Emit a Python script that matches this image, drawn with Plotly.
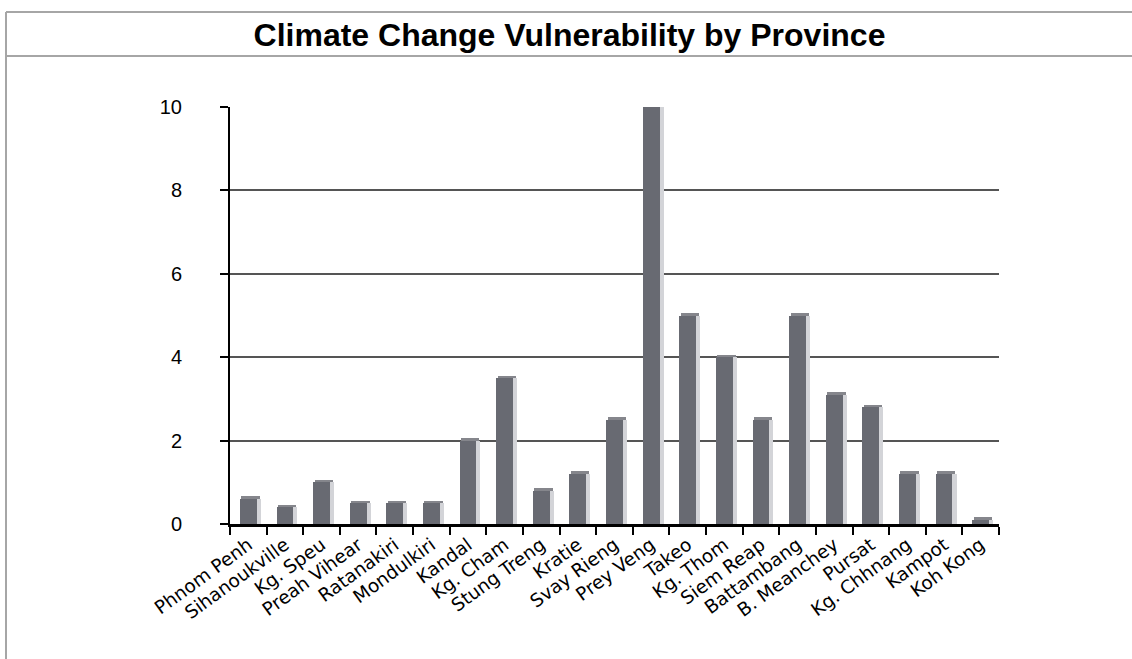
import plotly.graph_objects as go

provinces = ["Phnom Penh", "Sihanoukville", "Kg. Speu", "Preah Vihear", "Ratanakiri",
             "Mondulkiri", "Kandal", "Kg. Cham", "Stung Treng", "Kratie", "Svay Rieng",
             "Prey Veng", "Takeo", "Kg. Thom", "Siem Reap", "Battambang", "B. Meanchey",
             "Pursat", "Kg. Chhnang", "Kampot", "Koh Kong"]
vulnerability = [0.6, 0.4, 1.0, 0.5, 0.5, 0.5, 2.0, 3.5, 0.8, 1.2, 2.5,
                 10.0, 5.0, 4.0, 2.5, 5.0, 3.1, 2.8, 1.2, 1.2, 0.1]
y_ticks = [0, 2, 4, 6, 8, 10]

W, H = 1132, 659
L, R, T, B = 230, 133, 107, 135
pw, ph = W - L - R, H - T - B

def px(x):
    return (x - L) / pw

def py(y):
    return (H - B - y) / ph

fig = go.Figure()
# side face (3D depth)
fig.add_trace(go.Bar(x=provinces, y=vulnerability, width=0.11, offset=0.23,
                     marker=dict(color="#d3d4d8", line=dict(width=0)),
                     hoverinfo="skip", showlegend=False))
# front face
fig.add_trace(go.Bar(x=provinces, y=vulnerability, width=0.46, offset=-0.23,
                     marker=dict(color="#686a72", line=dict(width=0)),
                     showlegend=False))
# top face
fig.add_trace(go.Bar(x=provinces, y=[0.06] * len(vulnerability), base=vulnerability,
                     width=0.5, offset=-0.19,
                     marker=dict(color="#85868c", line=dict(width=0)),
                     hoverinfo="skip", showlegend=False))

fig.update_layout(
    width=W, height=H,
    margin=dict(l=L, r=R, t=T, b=B, pad=0),
    paper_bgcolor="white", plot_bgcolor="white",
    barmode="overlay", bargap=0,
    showlegend=False,
    title=dict(text="<b>Climate Change Vulnerability by Province</b>",
               x=(257 + 882) / 2 / W, xanchor="center",
               y=1 - 35 / H, yanchor="middle",
               font=dict(family="Liberation Sans", size=32, color="black")),
    xaxis=dict(type="category", tickangle=-36, tickson="boundaries",
               ticks="outside", ticklen=8, tickwidth=2, tickcolor="black",
               showline=True, linecolor="black", linewidth=3,
               showgrid=False, range=[-0.5, len(provinces) - 0.5],
               tickfont=dict(family="DejaVu Sans", size=18.5, color="black")),
    yaxis=dict(range=[0, 10], tickvals=y_ticks, ticks="outside", ticklen=8,
               tickwidth=2, tickcolor="black",
               showline=True, linecolor="black", linewidth=2,
               showgrid=True, gridcolor="#555555", gridwidth=1.5,
               zeroline=False, ticklabelstandoff=34,
               tickfont=dict(family="Liberation Sans", size=20, color="black")),
    shapes=[
        dict(type="line", xref="paper", yref="paper", x0=px(6), x1=px(W), y0=py(12), y1=py(12),
             line=dict(color="#a6a6a6", width=2)),
        dict(type="line", xref="paper", yref="paper", x0=px(6), x1=px(W), y0=py(56), y1=py(56),
             line=dict(color="#a6a6a6", width=2)),
        dict(type="line", xref="paper", yref="paper", x0=px(6), x1=px(6), y0=py(12), y1=py(H),
             line=dict(color="#a6a6a6", width=2)),
    ],
)

fig.write_html("out.html")
